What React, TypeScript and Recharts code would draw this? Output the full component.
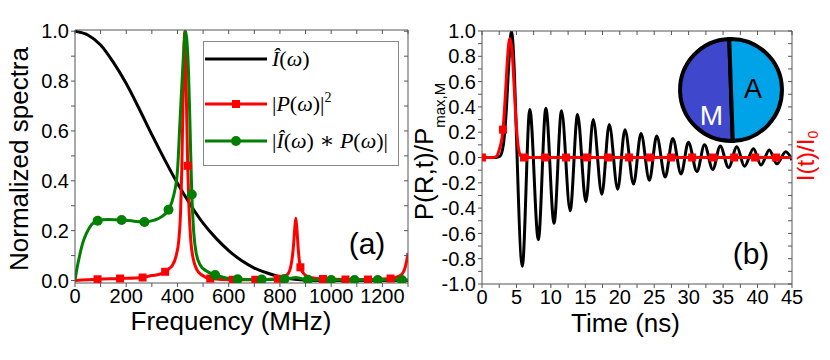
import React from 'react';
import { ComposedChart, Line, XAxis, YAxis, Legend, PieChart, Pie, Cell } from 'recharts';

// ---------- Panel (a): spectra ----------
const freqTicks = [0, 100, 200, 300, 400, 500, 600, 700, 800, 900, 1000, 1100, 1200, 1300];
const spectraTicks = [0, 0.1, 0.2, 0.3, 0.4, 0.5, 0.6, 0.7, 0.8, 0.9, 1.0];

const intensityFreq = [0, 50, 100, 150, 200, 250, 300, 350, 400, 450, 500, 550, 600, 650, 700, 750, 800, 850, 900, 950, 1300];
const intensityVal = [1.0, 0.985, 0.945, 0.875, 0.79, 0.69, 0.585, 0.485, 0.39, 0.305, 0.23, 0.17, 0.12, 0.08, 0.05, 0.03, 0.015, 0.006, 0.002, 0, 0];

const pFreq = [0, 88, 176, 264, 300, 330, 352, 370, 380, 395, 405, 412, 417, 421, 425, 428, 431, 435, 440, 445, 452, 462, 475, 495, 528, 616, 704, 792, 830, 845, 853, 858, 862, 866, 872, 880, 895, 920, 968, 1056, 1144, 1232, 1270, 1285, 1295, 1300];
const pVal = [0, 0.005, 0.008, 0.012, 0.02, 0.025, 0.035, 0.05, 0.06, 0.1, 0.16, 0.27, 0.45, 0.68, 0.9, 1.0, 0.92, 0.72, 0.46, 0.29, 0.16, 0.085, 0.045, 0.022, 0.008, 0.003, 0.003, 0.007, 0.025, 0.07, 0.14, 0.21, 0.25, 0.21, 0.12, 0.053, 0.025, 0.012, 0.006, 0.004, 0.004, 0.008, 0.02, 0.04, 0.08, 0.11];
const pMarkFreq = [88, 176, 264, 352, 440, 528, 616, 704, 792, 880, 968, 1056, 1144, 1232];
const pMarkVal = [0.005, 0.008, 0.012, 0.035, 0.46, 0.008, 0.003, 0.003, 0.007, 0.053, 0.006, 0.004, 0.004, 0.008];

const convFreq = [0, 8, 18, 30, 45, 65, 88.5, 130, 182, 230, 271, 310, 340, 365, 385, 400, 410, 420, 427, 432, 437, 443, 449, 456, 463, 473, 490, 510, 547, 590, 635, 729, 800, 840, 862, 885, 909, 1000, 1300];
const convVal = [0, 0.05, 0.1, 0.15, 0.19, 0.225, 0.24, 0.245, 0.243, 0.238, 0.235, 0.242, 0.257, 0.284, 0.34, 0.44, 0.64, 0.84, 0.96, 1.0, 0.96, 0.84, 0.62, 0.345, 0.2, 0.11, 0.06, 0.04, 0.022, 0.01, 0.005, 0.004, 0.005, 0.009, 0.012, 0.007, 0.003, 0.002, 0.002];
const convMarkFreq = [88.5, 182, 271, 365, 456, 547, 635, 729, 818, 909, 1000, 1091, 1182, 1276];
const convMarkVal = [0.24, 0.243, 0.235, 0.284, 0.345, 0.022, 0.005, 0.004, 0.006, 0.003, 0.002, 0.002, 0.002, 0.002];

// ---------- Panel (b): time domain ----------
const timeTicks = [0, 2.5, 5, 7.5, 10, 12.5, 15, 17.5, 20, 22.5, 25, 27.5, 30, 32.5, 35, 37.5, 40, 42.5, 45];
const pTicks = [-1.0, -0.9, -0.8, -0.7, -0.6, -0.5, -0.4, -0.3, -0.2, -0.1, 0, 0.1, 0.2, 0.3, 0.4, 0.5, 0.6, 0.7, 0.8, 0.9, 1.0];

const polTime = [0, 1, 2, 2.6, 3.1, 3.5, 3.9, 4.27, 5.85, 6.94, 8.18, 9.27, 10.46, 11.54, 12.8, 13.87, 15.08, 16.14, 17.4, 18.47, 19.7, 20.75, 22.0, 23.08, 24.3, 25.36, 26.6, 27.69, 28.9, 29.96, 31.2, 32.3, 33.5, 34.58, 35.8, 37.0, 38.1, 39.4, 40.5, 41.7, 42.8, 44.1, 45];
const polVal = [0, 0, 0, 0.01, 0.1, 0.35, 0.75, 1.0, -0.86, 0.38, -0.65, 0.39, -0.52, 0.37, -0.42, 0.34, -0.35, 0.3, -0.29, 0.26, -0.25, 0.22, -0.21, 0.19, -0.18, 0.17, -0.155, 0.15, -0.13, 0.12, -0.11, 0.1, -0.095, 0.09, -0.08, 0.085, -0.07, 0.07, -0.06, 0.06, -0.05, 0.045, -0.02];

const pulseTime = [0, 1.5, 2.0, 2.5, 3.05, 3.4, 3.7, 4.03, 4.35, 4.65, 4.95, 5.25, 5.6, 6.0, 45];
const pulseVal = [0, 0, 0.005, 0.06, 0.22, 0.5, 0.78, 0.94, 0.85, 0.58, 0.28, 0.09, 0.015, 0, 0];
const pulseMarkTime = [0, 3.05, 6.1, 9.15, 12.2, 15.25, 18.3, 21.35, 24.4, 27.45, 30.5, 33.55, 36.6, 39.65, 42.7];
const pulseMarkVal = [0, 0.22, 0, 0, 0, 0, 0, 0, 0, 0, 0, 0, 0, 0, 0];

// ---------- Inset ----------
const insetRegions = ['M', 'A'];
const insetShare = [1, 1];
const insetColors = ['#3f48cc', '#00a2e8'];
const insetTextColors = ['#ffffff', '#000000'];

const zip = (xs: number[], ys: number[]) => xs.map((x, i) => ({ x, y: ys[i] }));

const FONT = '"Liberation Sans", Arial, sans-serif';
const AXIS = '#555';
const tickStyle = { fontSize: 20, fill: '#000', fontFamily: FONT };

const fmtFreq = (v: number) => (v % 200 === 0 ? String(v) : '');
const fmtSpec = (v: number) => (Math.round(v * 10) % 2 === 0 ? v.toFixed(1) : '');
const fmtTime = (v: number) => (v % 5 === 0 ? String(v) : '');
const fmtP = (v: number) => {
  if (Math.round(Math.abs(v) * 10) % 2 !== 0) return '';
  return (Math.abs(v) < 1e-9 ? 0 : v).toFixed(1);
};
const blank = () => '';

const Square = (color: string) => (props: any) => {
  const { cx, cy, index } = props;
  if (cx == null || cy == null) return <g key={index} />;
  return <rect key={index} x={cx - 4} y={cy - 4} width={8} height={8} fill={color} />;
};
const Circle = (color: string) => (props: any) => {
  const { cx, cy, index } = props;
  if (cx == null || cy == null) return <g key={index} />;
  return <circle key={index} cx={cx} cy={cy} r={5} fill={color} />;
};

const MATH = '"Liberation Serif", "DejaVu Serif", serif';

const LegendBox = () => (
  <div style={{ width: 196, height: 125, border: '1px solid #888', boxSizing: 'border-box', background: '#fff' }}>
    <svg width={194} height={123} style={{ display: 'block' }}>
      <line x1={1} x2={63} y1={17} y2={17} stroke="#000" strokeWidth={3} />
      <line x1={1} x2={63} y1={62} y2={62} stroke="#ff0000" strokeWidth={3} />
      <rect x={28} y={58} width={8} height={8} fill="#ff0000" />
      <line x1={1} x2={63} y1={99} y2={99} stroke="#008000" strokeWidth={3} />
      <circle cx={32} cy={99} r={5} fill="#008000" />
      <text x={68} y={24} fontFamily={MATH} fontSize={22} fill="#000">
        <tspan fontStyle="italic">Î</tspan>(<tspan fontStyle="italic">ω</tspan>)
      </text>
      <text x={68} y={69} fontFamily={MATH} fontSize={22} fill="#000">
        |<tspan fontStyle="italic">P</tspan>(<tspan fontStyle="italic">ω</tspan>)|<tspan fontSize={14} dy={-9}>2</tspan>
      </text>
      <text x={68} y={106} fontFamily={MATH} fontSize={22} fill="#000">
        |<tspan fontStyle="italic">Î</tspan>(<tspan fontStyle="italic">ω</tspan>) ∗ <tspan fontStyle="italic">P</tspan>(<tspan fontStyle="italic">ω</tspan>)|
      </text>
    </svg>
  </div>
);

const insetLabel = (props: any) => {
  const { cx, cy, index } = props;
  const off = index === 0 ? { dx: -19.5, dy: 25 } : { dx: 22, dy: -1.5 };
  return (
    <text
      key={index}
      x={cx + off.dx}
      y={cy + off.dy}
      textAnchor="middle"
      dominantBaseline="central"
      fontFamily={FONT}
      fontSize={index === 0 ? 28 : 27}
      fill={insetTextColors[index]}
    >
      {insetRegions[index]}
    </text>
  );
};

export default function App() {
  const intensity = zip(intensityFreq, intensityVal);
  const pSpec = zip(pFreq, pVal);
  const pMarks = zip(pMarkFreq, pMarkVal);
  const conv = zip(convFreq, convVal);
  const convMarks = zip(convMarkFreq, convMarkVal);
  const pol = zip(polTime, polVal);
  const pulse = zip(pulseTime, pulseVal);
  const pulseMarks = zip(pulseMarkTime, pulseMarkVal);
  const inset = insetRegions.map((name, i) => ({ name, value: insetShare[i] }));

  return (
    <div style={{ position: 'absolute', left: 0, top: 0, width: 830, height: 360, background: '#fff', overflow: 'hidden' }}>
      <div style={{ position: 'absolute', left: 0, top: 0 }}>
        <ComposedChart width={415} height={360} margin={{ top: 30, right: 7, bottom: 30, left: 0 }}>
          <XAxis xAxisId="b" type="number" dataKey="x" domain={[0, 1300]} ticks={freqTicks} allowDataOverflow
            tickFormatter={fmtFreq} tick={tickStyle} tickSize={4} tickMargin={2} height={47}
            stroke={AXIS} interval={0} />
          <XAxis xAxisId="t" orientation="top" mirror type="number" dataKey="x" domain={[0, 1300]} ticks={freqTicks}
            allowDataOverflow tickFormatter={blank} tickSize={4} stroke={AXIS} interval={0} />
          <YAxis yAxisId="l" type="number" domain={[-0.01, 1.005]} ticks={spectraTicks} allowDataOverflow
            tickFormatter={fmtSpec} tick={tickStyle} tickSize={4} tickMargin={2} width={75} stroke={AXIS} interval={0} />
          <YAxis yAxisId="r" orientation="right" mirror type="number" domain={[-0.01, 1.005]} ticks={spectraTicks}
            allowDataOverflow tickFormatter={blank} tickSize={4} stroke={AXIS} interval={0} />
          <Line xAxisId="b" yAxisId="l" data={intensity} dataKey="y" type="monotone" stroke="#000" strokeWidth={3}
            dot={false} activeDot={false} isAnimationActive={false} />
          <Line xAxisId="b" yAxisId="l" data={pSpec} dataKey="y" type="monotone" stroke="#ff0000" strokeWidth={3}
            dot={false} activeDot={false} isAnimationActive={false} />
          <Line xAxisId="b" yAxisId="l" data={pMarks} dataKey="y" stroke="none" dot={Square('#ff0000')}
            activeDot={false} isAnimationActive={false} />
          <Line xAxisId="b" yAxisId="l" data={conv} dataKey="y" type="monotone" stroke="#008000" strokeWidth={3}
            dot={false} activeDot={false} isAnimationActive={false} />
          <Line xAxisId="b" yAxisId="l" data={convMarks} dataKey="y" stroke="none" dot={Circle('#008000')}
            activeDot={false} isAnimationActive={false} />
          <Legend layout="vertical" align="center" verticalAlign="middle" content={() => <LegendBox />}
            wrapperStyle={{ position: 'absolute', left: 203, top: 41, width: 196, height: 125 }} />
          <text x={231} y={330} textAnchor="middle" fontFamily={FONT} fontSize={26} fill="#000">Frequency (MHz)</text>
          <text x={28} y={159} transform="rotate(-90 28 159)" textAnchor="middle" fontFamily={FONT} fontSize={26} fill="#000">
            Normalized spectra
          </text>
          <text x={367} y={254} textAnchor="middle" fontFamily={FONT} fontSize={30} fill="#000">(a)</text>
        </ComposedChart>
      </div>

      <div style={{ position: 'absolute', left: 400, top: 0 }}>
        <ComposedChart width={430} height={360} margin={{ top: 31, right: 38, bottom: 29, left: 15 }}>
          <XAxis xAxisId="b" type="number" dataKey="x" domain={[0, 45]} ticks={timeTicks} allowDataOverflow
            tickFormatter={fmtTime} tick={tickStyle} tickSize={4} tickMargin={2} height={47} stroke={AXIS} interval={0} />
          <XAxis xAxisId="t" orientation="top" mirror type="number" dataKey="x" domain={[0, 45]} ticks={timeTicks}
            allowDataOverflow tickFormatter={blank} tickSize={4} stroke={AXIS} interval={0} />
          <YAxis yAxisId="l" type="number" domain={[-1, 1]} ticks={pTicks} allowDataOverflow
            tickFormatter={fmtP} tick={tickStyle} tickSize={4} tickMargin={2} width={67} stroke={AXIS} interval={0} />
          <YAxis yAxisId="r" orientation="right" mirror type="number" domain={[-1, 1]} ticks={pTicks}
            allowDataOverflow tickFormatter={blank} tickSize={4} stroke={AXIS} interval={0} />
          <Line xAxisId="b" yAxisId="l" data={pol} dataKey="y" type="monotone" stroke="#000" strokeWidth={3}
            dot={false} activeDot={false} isAnimationActive={false} />
          <Line xAxisId="b" yAxisId="r" data={pulse} dataKey="y" type="monotone" stroke="#ff0000" strokeWidth={3}
            dot={false} activeDot={false} isAnimationActive={false} />
          <Line xAxisId="b" yAxisId="r" data={pulseMarks} dataKey="y" stroke="none" dot={Square('#ff0000')}
            activeDot={false} isAnimationActive={false} />
          <text x={225.5} y={331.5} textAnchor="middle" fontFamily={FONT} fontSize={26} fill="#000">Time (ns)</text>
          <text x={33} y={151.5} transform="rotate(-90 33 151.5)" textAnchor="middle" fontFamily={FONT} fontSize={26} fill="#000">
            P(R,t)/P<tspan fontSize={15} dy={12}>max,M</tspan>
          </text>
          <text x={414} y={156} transform="rotate(-90 414 156)" textAnchor="middle" fontFamily={FONT} fontSize={24} fill="#ff0000">
            I(t)/I<tspan fontSize={14} dy={4}>0</tspan>
          </text>
          <text x={351} y={264} textAnchor="middle" fontFamily={FONT} fontSize={30} fill="#000">(b)</text>
        </ComposedChart>
      </div>

      <div style={{ position: 'absolute', left: 666, top: 25 }}>
        <PieChart width={130} height={130} margin={{ top: 0, right: 0, bottom: 0, left: 0 }}>
          <Pie data={inset} dataKey="value" nameKey="name" cx={65} cy={65} innerRadius={0} outerRadius={51}
            startAngle={92} endAngle={452} stroke="#000" strokeWidth={4} label={insetLabel} labelLine={false}
            isAnimationActive={false}>
            {inset.map((d, i) => (
              <Cell key={d.name} fill={insetColors[i]} />
            ))}
          </Pie>
        </PieChart>
      </div>
    </div>
  );
}
